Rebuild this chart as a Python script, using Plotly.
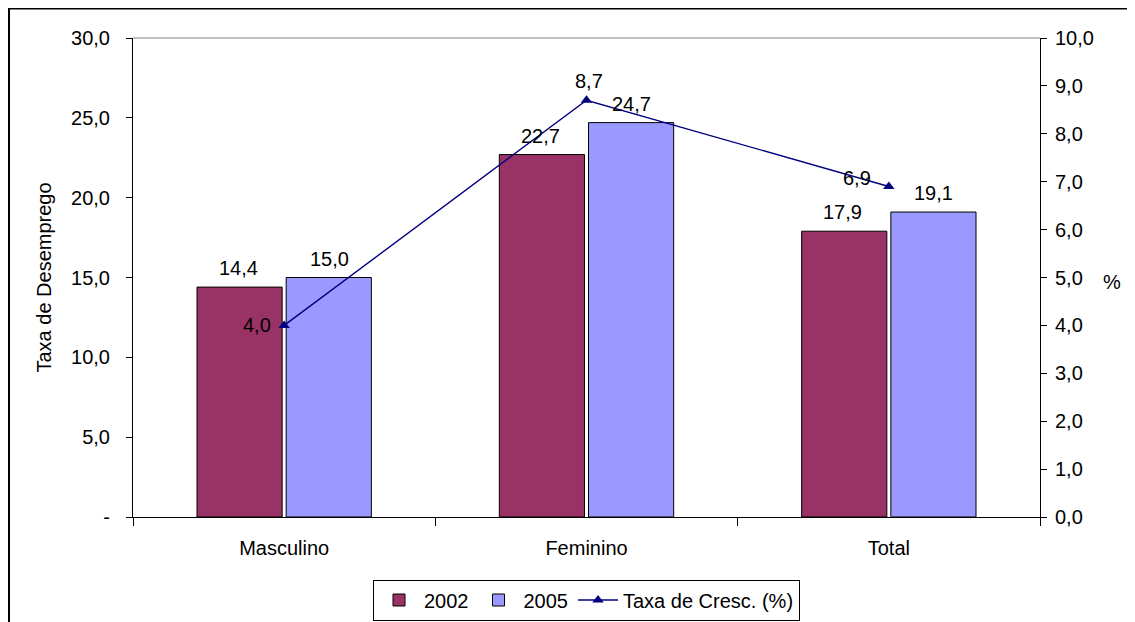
import plotly.graph_objects as go

categories = ["Masculino", "Feminino", "Total"]
taxa_2002 = [14.4, 22.7, 17.9]
taxa_2005 = [15.0, 24.7, 19.1]
taxa_cresc = [4.0, 8.7, 6.9]

left_ticks = [0, 5, 10, 15, 20, 25, 30]
left_ticktext = ["-", "5,0", "10,0", "15,0", "20,0", "25,0", "30,0"]
right_ticks = [0, 1, 2, 3, 4, 5, 6, 7, 8, 9, 10]

FONT = "Liberation Sans, Arial, sans-serif"
FS = 20
C2002 = "#993366"
C2005 = "#9999FF"
CLINE = "#000080"


def fmt(v):
    return f"{v:.1f}".replace(".", ",")


fig = go.Figure()
fig.add_trace(go.Bar(x=categories, y=taxa_2002, name="2002",
                     marker=dict(color=C2002, line=dict(color="black", width=1))))
fig.add_trace(go.Bar(x=categories, y=taxa_2005, name="2005",
                     marker=dict(color=C2005, line=dict(color="black", width=1))))
fig.add_trace(go.Scatter(x=categories, y=taxa_cresc, name="Taxa de Cresc. (%)",
                         yaxis="y2", mode="lines+markers",
                         line=dict(color=CLINE, width=1.4),
                         marker=dict(symbol="triangle-up", size=10, color=CLINE)))

annotations = []
for c, v in zip(categories, taxa_2002):
    annotations.append(dict(x=c, y=v, xref="x", yref="y", text=fmt(v), showarrow=False,
                            xshift=-46, yshift=19, font=dict(size=FS, color="black")))
for c, v in zip(categories, taxa_2005):
    annotations.append(dict(x=c, y=v, xref="x", yref="y", text=fmt(v), showarrow=False,
                            xshift=45, yshift=19, font=dict(size=FS, color="black")))
line_shifts = [(-27, 0), (2, 19), (-32, 8)]
for c, v, (dx, dy) in zip(categories, taxa_cresc, line_shifts):
    annotations.append(dict(x=c, y=v, xref="x", yref="y2", text=fmt(v), showarrow=False,
                            xshift=dx, yshift=dy, font=dict(size=FS, color="black")))
annotations.append(dict(x=-0.0992, y=0.5, xref="paper", yref="paper", text="Taxa de Desemprego",
                        textangle=-90, showarrow=False, xanchor="center", yanchor="middle",
                        font=dict(size=FS, color="black")))
annotations.append(dict(x=1.0794, y=0.4906, xref="paper", yref="paper", text="%",
                        showarrow=False, xanchor="center", yanchor="middle",
                        font=dict(size=FS, color="black")))

fig.update_layout(
    width=1119, height=630,
    margin=dict(l=125, r=87, t=30, b=121, autoexpand=False),
    paper_bgcolor="white", plot_bgcolor="white",
    font=dict(family=FONT, size=FS, color="black"),
    separators=",.",
    barmode="group", bargap=0.41, bargroupgap=0.045,
    xaxis=dict(type="category", showline=True, linecolor="black", linewidth=1,
               ticks="outside", tickson="boundaries", ticklen=8, tickcolor="black",
               showgrid=False, zeroline=False, tickfont=dict(size=FS),
               ticklabelstandoff=13),
    yaxis=dict(range=[0, 30], tickvals=left_ticks, ticktext=left_ticktext,
               showline=True, linecolor="black", linewidth=1, ticks="outside",
               ticklen=6, tickcolor="black", showgrid=False, zeroline=False,
               tickfont=dict(size=FS), ticklabelstandoff=12),
    yaxis2=dict(range=[0, 10], tickvals=right_ticks,
                ticktext=[fmt(v) for v in right_ticks], overlaying="y", side="right",
                showline=True, linecolor="black", linewidth=1, ticks="outside",
                ticklen=6, tickcolor="black", showgrid=False, zeroline=False,
                tickfont=dict(size=FS), ticklabelstandoff=4),
    yaxis3=dict(range=[0, 30], tickvals=left_ticks, overlaying="y", side="left",
                anchor="x", showticklabels=False, ticks="inside", ticklen=5,
                tickcolor="black", showgrid=False, zeroline=False, showline=False),
    yaxis4=dict(range=[0, 10], tickvals=right_ticks, overlaying="y", side="right",
                anchor="x", showticklabels=False, ticks="inside", ticklen=5,
                tickcolor="black", showgrid=False, zeroline=False, showline=False),
    legend=dict(orientation="h", x=0.5, xanchor="center", y=-0.1733, yanchor="middle",
                bordercolor="black", borderwidth=1, bgcolor="white",
                font=dict(size=FS), itemwidth=40, tracegroupgap=0),
    annotations=annotations,
    shapes=[
        dict(type="line", xref="paper", yref="paper", x0=0, x1=1, y0=1, y1=1,
             line=dict(color="#808080", width=1)),
        dict(type="path", xref="paper", yref="paper",
             path="M 1.2 1.0616 L -0.1367 1.0616 L -0.1367 -0.3",
             line=dict(color="black", width=2)),
    ],
    showlegend=True,
)

fig.write_html("out.html")
